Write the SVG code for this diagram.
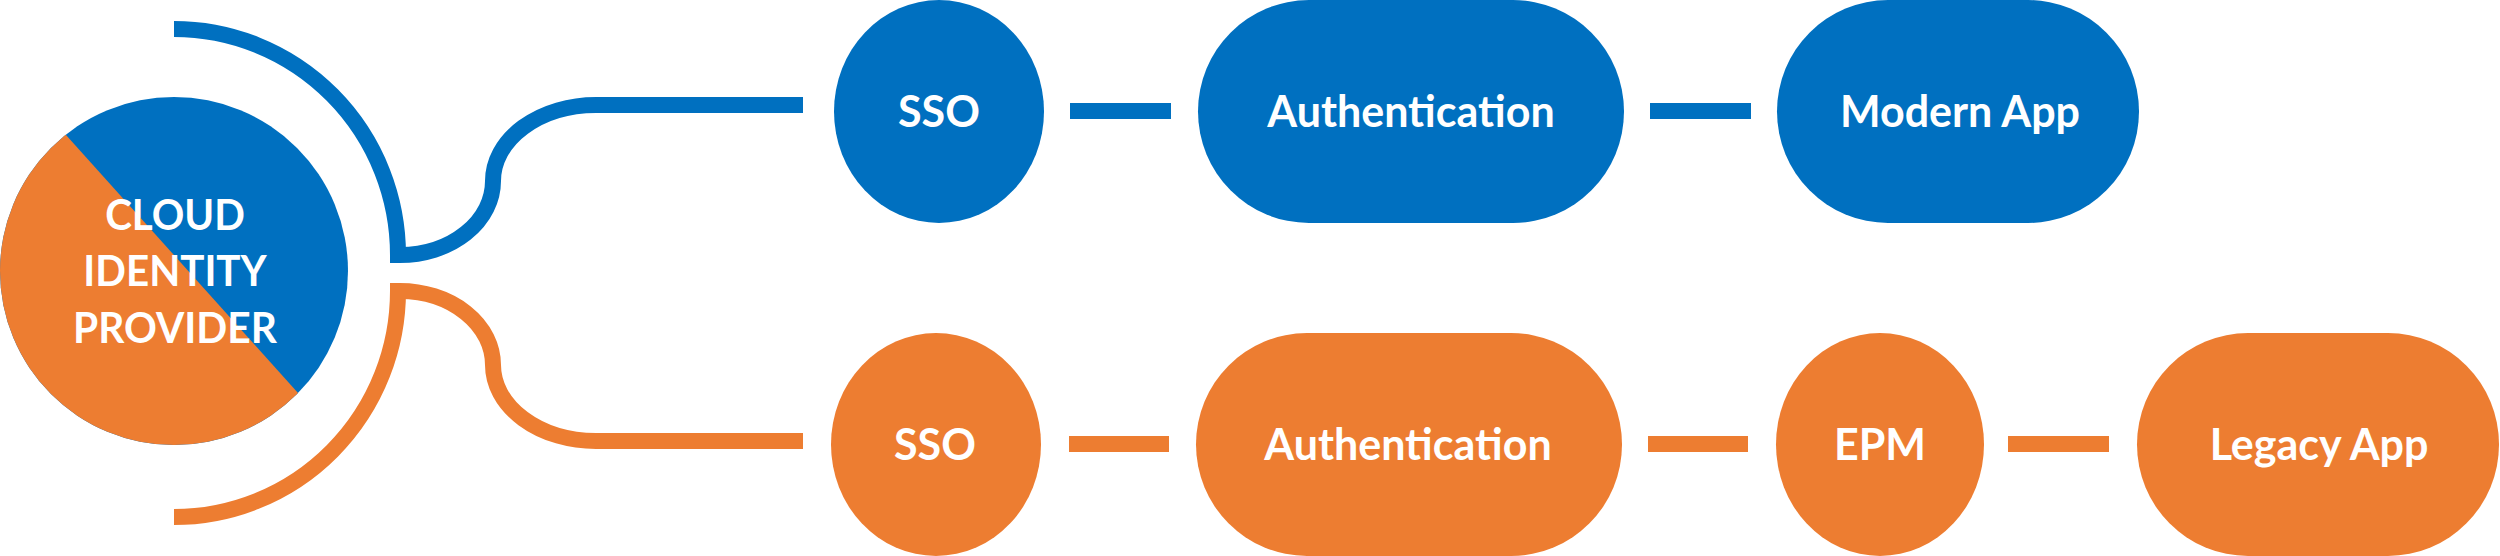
<svg xmlns="http://www.w3.org/2000/svg" width="2500" height="556" viewBox="0 0 2500 556">
<style>
.b{fill:#0070C0}
.o{fill:#ED7D31}
.lb{fill:none;stroke:#0070C0;stroke-width:16}
.lo{fill:none;stroke:#ED7D31;stroke-width:16}
text{font-family:Lato,"Open Sans","Liberation Sans",sans-serif;font-weight:bold;fill:#fff;text-anchor:middle;font-size:43px}
.t{font-size:42px}
</style>
<defs>
<clipPath id="cc"><circle cx="174" cy="271" r="174"/></clipPath>
</defs>
<rect width="2500" height="556" fill="#fff"/>
<g id="cloud-identity-provider">
<circle class="b" cx="174" cy="271" r="174"/>
<polygon class="o" points="-50,6 414,522 -50,522" clip-path="url(#cc)"/>
<text class="t" transform="translate(175 230) scale(0.96 1)">CLOUD</text>
<text class="t" transform="translate(175 286) scale(0.96 1)">IDENTITY</text>
<text class="t" transform="translate(175 343) scale(0.97 1)">PROVIDER</text>
</g>
<g id="connectors">
<path class="lb" d="M174 29 A224 226 0 0 1 398 255"/>
<path class="lb" d="M390 255 H400 A93 74 0 0 0 493 181 A103 76 0 0 1 596 105 H803"/>
<path class="lo" d="M174 517 A224 226 0 0 0 398 291"/>
<path class="lo" d="M390 291 H400 A93 74 0 0 1 493 365 A103 76 0 0 0 596 441 H803"/>
<line class="lb" x1="1070" y1="111" x2="1171" y2="111"/>
<line class="lb" x1="1650" y1="111" x2="1751" y2="111"/>
<line class="lo" x1="1069" y1="444" x2="1169" y2="444"/>
<line class="lo" x1="1648" y1="444" x2="1748" y2="444"/>
<line class="lo" x1="2008" y1="444" x2="2109" y2="444"/>
</g>
<g id="sso-top">
<ellipse class="b" cx="939" cy="111.5" rx="105" ry="111.5"/>
<text x="939" y="127">SSO</text>
</g>
<g id="authentication-top">
<rect class="b" x="1198" y="0" width="426" height="223" rx="111" ry="111.5"/>
<text x="1411" y="127">Authentication</text>
</g>
<g id="modern-app">
<rect class="b" x="1777" y="0" width="362" height="223" rx="111" ry="111.5"/>
<text x="1960" y="127">Modern App</text>
</g>
<g id="sso-bottom">
<ellipse class="o" cx="936" cy="444.5" rx="105" ry="111.5"/>
<text x="935" y="460">SSO</text>
</g>
<g id="authentication-bottom">
<rect class="o" x="1196" y="333" width="426" height="223" rx="111" ry="111.5"/>
<text x="1408" y="460">Authentication</text>
</g>
<g id="epm">
<ellipse class="o" cx="1880" cy="444.5" rx="104" ry="111.5"/>
<text x="1880" y="460">EPM</text>
</g>
<g id="legacy-app">
<rect class="o" x="2137" y="333" width="362" height="223" rx="111" ry="111.5"/>
<text x="2319" y="460">Legacy App</text>
</g>
</svg>
